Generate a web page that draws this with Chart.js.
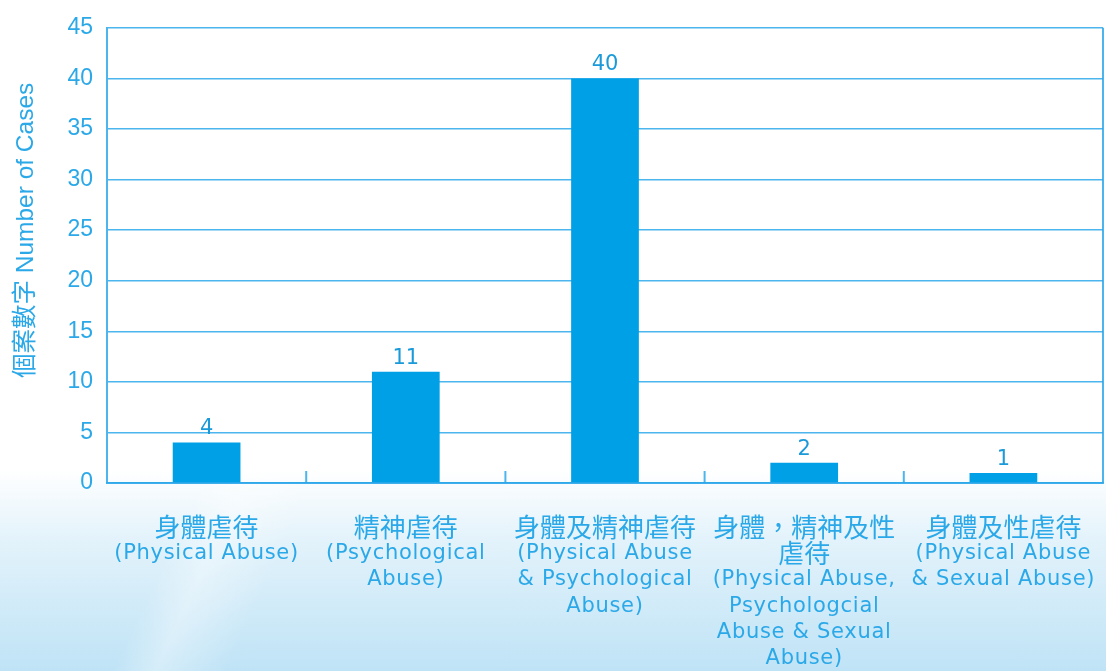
<!DOCTYPE html>
<html>
<head>
<meta charset="utf-8">
<script src="https://cdn.jsdelivr.net/npm/chart.js@4"></script>
<style>
  html, body { margin: 0; padding: 0; }
  body {
    width: 1106px; height: 671px; overflow: hidden;
    background:
      linear-gradient(115deg, rgba(255,255,255,0) 0%, rgba(255,255,255,0) 30%, rgba(255,255,255,0.35) 33%, rgba(255,255,255,0) 38%, rgba(255,255,255,0) 100%),
      linear-gradient(to bottom, #ffffff 0%, #ffffff 70%, #e4f3fb 80%, #bfe3f6 100%);
  }
  #wrap { position: relative; width: 1106px; height: 671px; }
</style>
</head>
<body>
<div id="wrap"><canvas id="chart" width="1106" height="671"></canvas></div>
<script>
// dados do gráfico
const categories = [
  ['身體虐待', '(Physical Abuse)'],
  ['精神虐待', '(Psychological', 'Abuse)'],
  ['身體及精神虐待', '(Physical Abuse', '& Psychological', 'Abuse)'],
  ['身體，精神及性', '虐待', '(Physical Abuse,', 'Psychologcial', 'Abuse & Sexual', 'Abuse)'],
  ['身體及性虐待', '(Physical Abuse', '& Sexual Abuse)']
];
const cases = [4, 11, 40, 2, 1];
const yTicks = [0, 5, 10, 15, 20, 25, 30, 35, 40, 45];
const yTitle = '個案數字 Number of Cases';

const blue = '#00a0e6';
const textBlue = '#2aa8e8';
const lineBlue = 'rgba(45,168,234,0.85)';

// plugin: borda, tracinhos entre categorias, rótulos de valor, título do eixo y e rótulos do eixo x
const extras = {
  id: 'extras',
  afterDraw(chart) {
    const ctx = chart.ctx;
    const area = chart.chartArea;
    const x = chart.scales.x;
    ctx.save();
    ctx.strokeStyle = lineBlue;
    ctx.lineWidth = 2;
    // borda direita
    ctx.beginPath();
    ctx.moveTo(area.right, area.top);
    ctx.lineTo(area.right, area.bottom);
    ctx.stroke();
    // tracinhos entre as categorias
    for (let i = 0; i < categories.length - 1; i++) {
      const px = (x.getPixelForValue(i) + x.getPixelForValue(i + 1)) / 2;
      ctx.beginPath();
      ctx.moveTo(px, area.bottom);
      ctx.lineTo(px, area.bottom - 12);
      ctx.stroke();
    }
    // valores em cima das barras
    const meta = chart.getDatasetMeta(0);
    ctx.fillStyle = '#1a9ad8';
    ctx.font = '21px "DejaVu Sans", sans-serif';
    ctx.textAlign = 'center';
    ctx.textBaseline = 'bottom';
    meta.data.forEach((bar, i) => {
      ctx.fillText(String(cases[i]), bar.x, bar.y - 3);
    });
    // título do eixo y (um pouco acima do centro, como no original)
    ctx.save();
    ctx.translate(26, (area.top + area.bottom) / 2 - 25);
    ctx.rotate(-Math.PI / 2);
    ctx.textBaseline = 'middle';
    ctx.fillStyle = textBlue;
    ctx.font = '24.5px "Liberation Sans", "Noto Sans CJK TC", sans-serif';
    ctx.fillText(yTitle, 0, 0);
    ctx.restore();
    // rótulos das categorias
    ctx.textBaseline = 'middle';
    ctx.fillStyle = textBlue;
    categories.forEach((lines, i) => {
      const cx = x.getPixelForValue(i);
      lines.forEach((line, j) => {
        const isCJK = /[\u4e00-\u9fff]/.test(line);
        ctx.font = isCJK ? '26px "Noto Sans CJK TC", sans-serif' : '21px "DejaVu Sans", sans-serif';
        ctx.letterSpacing = isCJK ? '0px' : '0.7px';
        ctx.fillText(line, cx, area.bottom + 44 + j * 26.4);
      });
    });
    ctx.restore();
  }
};

new Chart(document.getElementById('chart'), {
  type: 'bar',
  data: {
    labels: categories.map(c => c.join(' ')),
    datasets: [{
      data: cases,
      backgroundColor: blue,
      borderWidth: 0,
      barPercentage: 0.34,
      categoryPercentage: 1
    }]
  },
  options: {
    responsive: false,
    animation: false,
    layout: { padding: { top: 16, right: 3, bottom: 180, left: 46 } },
    plugins: {
      legend: { display: false },
      tooltip: { enabled: false }
    },
    scales: {
      x: {
        grid: { display: false },
        ticks: { display: false },
        border: { color: lineBlue, width: 2 }
      },
      y: {
        min: 0,
        max: 45,
        afterBuildTicks: axis => { axis.ticks = yTicks.map(v => ({ value: v })); },
        afterFit: axis => { axis.width = 61; },
        grid: { color: lineBlue, lineWidth: 1.5, drawTicks: false },
        border: { color: lineBlue, width: 2 },
        ticks: {
          color: textBlue,
          padding: 14,
          font: { size: 23, family: '"Liberation Sans", Arial, sans-serif' }
        }
      }
    }
  },
  plugins: [extras]
});
</script>
</body>
</html>
